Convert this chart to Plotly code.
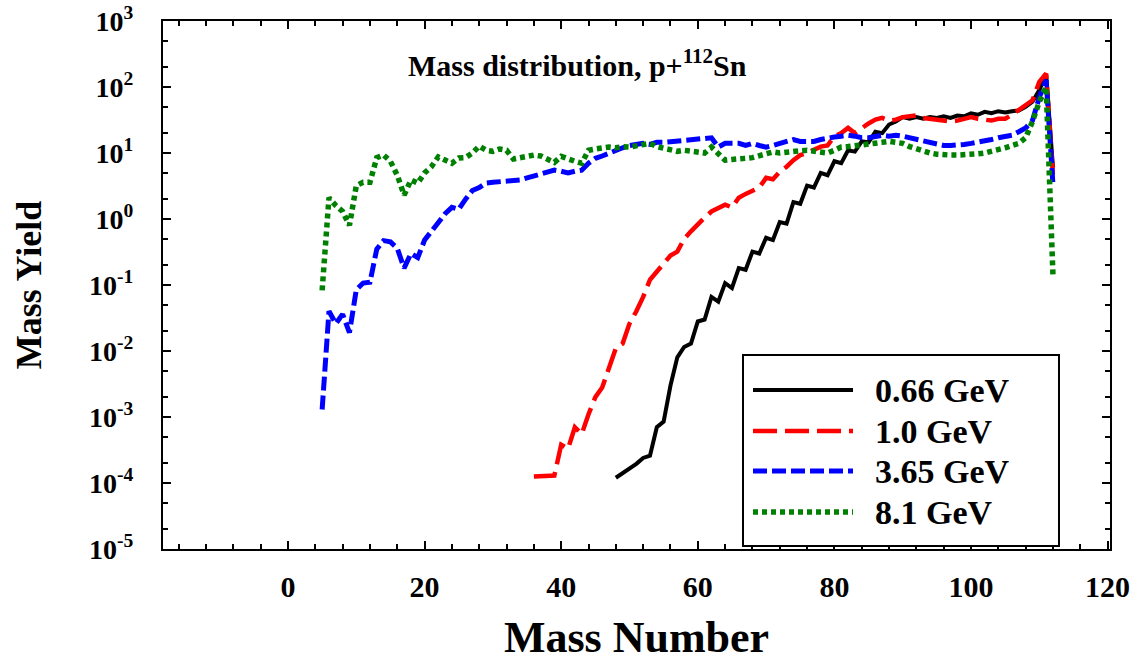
import plotly.graph_objects as go

# ---------------- data ----------------
series_names = ["0.66 GeV", "1.0 GeV", "3.65 GeV", "8.1 GeV"]
series_colors = ["#000000", "#ff0000", "#0000ff", "#008000"]

a_066 = list(range(48, 113))
y_066 = [1.2e-4, 1.4e-4, 1.65e-4, 1.95e-4, 2.4e-4, 2.6e-4, 7e-4, 8.5e-4, 3e-3, 8e-3,
         1.15e-2, 1.3e-2, 2.8e-2, 3.0e-2, 6.6e-2, 5.6e-2, 0.107, 0.09, 0.18, 0.17,
         0.32, 0.30, 0.52, 0.48, 0.9, 0.85, 1.8, 1.7, 3.2, 3.0,
         5.0, 4.6, 7.5, 7.0, 11, 10.5, 15, 14.5, 21, 20,
         27, 30, 35, 33, 35, 33, 35, 34, 36, 34,
         37, 36, 40, 38, 42, 40, 43, 41, 43, 44,
         50, 60, 90, 155, 6]

a_10 = list(range(36, 113))
y_10 = [1.25e-4, 1.25e-4, 1.25e-4, 1.3e-4, 3.8e-4, 3.3e-4, 7e-4, 5.5e-4, 1.1e-3, 2.0e-3,
        2.8e-3, 5.5e-3, 1.1e-2, 1.3e-2, 2.6e-2, 4.0e-2, 6.6e-2, 0.12, 0.16, 0.22,
        0.28, 0.32, 0.5, 0.65, 0.85, 1.05, 1.3, 1.45, 1.65, 1.5,
        2.1, 2.4, 2.7, 3.0, 4.2, 4.0, 5.2, 6.2, 7.8, 9.3,
        10, 11, 12.5, 13, 18, 20, 24, 20, 24, 28,
        32, 34, 31, 32, 35, 36, 37, 34, 33, 31,
        30, 30, 31, 33, 35, 33, 32, 31, 33, 33,
        38, 45, 52, 63, 120, 160, 4.5]

a_365 = list(range(5, 113))
y_365 = [1.3e-3, 0.04, 0.026, 0.036, 0.019, 0.085, 0.107, 0.11, 0.35, 0.47,
         0.45, 0.36, 0.18, 0.3, 0.26, 0.48, 0.65, 0.9, 1.2, 1.5,
         1.4, 2.0, 2.7, 3.0, 3.5, 3.6, 3.7, 3.7, 3.8, 3.9,
         4.2, 4.5, 4.8, 5.0, 5.5, 5.3, 5.0, 5.3, 5.5, 7,
         8.3, 9, 10, 11, 12, 13, 13.5, 14, 13.5, 14.5,
         14.5, 14.8, 15, 15.5, 16, 16, 16, 17, 12.3, 14,
         14, 14, 13, 14, 13, 12.3, 13, 14, 15, 16,
         15, 15, 15, 16, 17, 17.5, 18, 18.6, 18, 17,
         17, 18, 18.6, 18, 18.6, 18, 17, 16, 15, 14,
         13.5, 13, 13, 13, 13.5, 14, 14.5, 15, 16, 17,
         18, 18.6, 21, 24, 31, 70, 128, 3.3]

a_81 = list(range(5, 113))
y_81 = [0.083, 2.1, 1.6, 1.3, 0.8, 3.2, 3.6, 3.6, 8.5, 9.3,
        7.5, 4.6, 2.3, 3.9, 3.5, 5, 6.2, 8.7, 7.8, 7,
        8.4, 8.5, 10, 12.7, 11, 10.6, 11.5, 11, 8.1, 8.5,
        9, 9.3, 9, 8, 7.2, 8.9, 8, 7.5, 7, 11,
        11.5, 12, 12.3, 12, 12.5, 12.3, 13, 13.5, 14, 12.5,
        12, 11, 10.6, 11, 10.5, 10, 10, 12.3, 9.5, 7.8,
        8, 8.3, 8.3, 8.5, 9, 9.5, 10.4, 10, 10.4, 10.4,
        10.8, 11, 10.5, 10.2, 10, 11, 12.3, 12.5, 13, 13,
        13.5, 14, 14.5, 15, 14.5, 14, 12.5, 11.5, 10.5, 10,
        9.6, 9.3, 9.3, 9.3, 9.3, 9.5, 9.7, 10, 10.5, 11.3,
        12, 13, 14, 17, 30, 60, 100, 0.14]

x_tick_vals = [0, 20, 40, 60, 80, 100, 120]
y_exponents = [-5, -4, -3, -2, -1, 0, 1, 2, 3]

title_text = "Mass distribution, p+<sup>112</sup>Sn"
x_title = "Mass Number"
y_title = "Mass Yield"

# ---------------- styles ----------------
FONT = "Liberation Serif"
dashes = ["solid", "24px,8px", "14px,5px", "5px,4px"]
widths = [4, 4.5, 5, 5.5]

xs = [a_066, a_10, a_365, a_81]
ys = [y_066, y_10, y_365, y_81]

fig = go.Figure()
for name, col, dsh, w, xv, yv in zip(series_names, series_colors, dashes, widths, xs, ys):
    fig.add_trace(go.Scatter(x=xv, y=yv, mode="lines", name=name, showlegend=False,
                             line=dict(color=col, dash=dsh, width=w)))

W, H = 1143, 662
L, R, T, B = 163, 33, 21, 113
pw, ph = W - L - R, H - T - B

def px_to_paper(px, py):
    return (px - L) / pw, (H - B - py) / ph

fig.update_layout(
    width=W, height=H, autosize=False,
    margin=dict(l=L, r=R, t=T, b=B, pad=0, autoexpand=False),
    paper_bgcolor="white", plot_bgcolor="white",
    font=dict(family=FONT, color="black", size=28, weight="bold"),
    showlegend=False,
)

fig.update_xaxes(
    automargin=False,
    range=[-18.3, 120.35], showgrid=False, zeroline=False,
    showline=True, linecolor="black", linewidth=2, mirror="ticks",
    ticks="inside", ticklen=8, tickwidth=2, tickcolor="black",
    tickvals=x_tick_vals, ticktext=[str(v) for v in x_tick_vals],
    tickfont=dict(family=FONT, size=30, weight="bold"),
    ticklabelstandoff=10,
    minor=dict(ticks="inside", ticklen=5, tickwidth=1.5, tickcolor="black",
               dtick=4, tick0=0, showgrid=False),
    title=dict(text=x_title, font=dict(family=FONT, size=44, weight="bold"), standoff=26),
)

fig.update_yaxes(
    automargin=False,
    type="log", range=[-5, 3], showgrid=False, zeroline=False,
    showline=True, linecolor="black", linewidth=2, mirror="ticks",
    ticks="inside", ticklen=8, tickwidth=2, tickcolor="black",
    tickvals=[10.0 ** e for e in y_exponents],
    ticktext=["10<sup>%d</sup>" % e for e in y_exponents],
    tickfont=dict(family=FONT, size=28, weight="bold"),
    ticklabelstandoff=22,
    minor=dict(ticks="inside", ticklen=5, tickwidth=1.5, tickcolor="black", showgrid=False),
    title=dict(text=y_title, font=dict(family=FONT, size=36, weight="bold"), standoff=36),
)

# title inside plot
tx, ty = px_to_paper(577, 63)
fig.add_annotation(x=tx, y=ty, xref="paper", yref="paper", text=title_text, showarrow=False,
                   font=dict(family=FONT, size=30, weight="bold"), xanchor="center", yanchor="middle")

# manual legend (box + line samples + labels)
bx0, by0 = px_to_paper(743, 546)
bx1, by1 = px_to_paper(1059, 355)
fig.add_shape(type="rect", xref="paper", yref="paper", x0=bx0, y0=by0, x1=bx1, y1=by1,
              line=dict(color="black", width=2), fillcolor="white", layer="above")
row_py = [390, 431, 471, 512]
for name, col, dsh, w, py in zip(series_names, series_colors, dashes, widths, row_py):
    lx0, ly = px_to_paper(753, py)
    lx1, _ = px_to_paper(853, py)
    fig.add_shape(type="line", xref="paper", yref="paper", x0=lx0, x1=lx1, y0=ly, y1=ly,
                  line=dict(color=col, dash=dsh, width=w), layer="above")
    txx, _ = px_to_paper(873, py)
    fig.add_annotation(x=txx, y=ly, xref="paper", yref="paper", text=name, showarrow=False,
                       xanchor="left", yanchor="middle",
                       font=dict(family=FONT, size=34, weight="bold"))

fig.write_html("out.html", config={"displayModeBar": False},
               post_script="document.body.style.margin='0';")
